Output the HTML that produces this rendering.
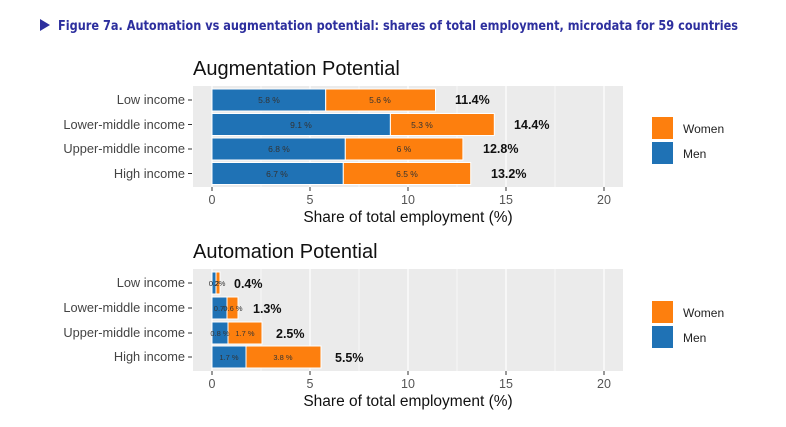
<!DOCTYPE html><html><head><meta charset="utf-8"><style>body{margin:0;background:#fff}svg{display:block}</style></head><body>
<svg width="786" height="427" xmlns="http://www.w3.org/2000/svg" font-family="Liberation Sans, sans-serif">
<polygon points="40,19 40,31 50,25" fill="#2d2f9e"/>
<text x="58" y="30" font-size="13.5" font-weight="bold" fill="#2d2f9e" font-family="DejaVu Sans Condensed, DejaVu Sans, sans-serif" textLength="680" lengthAdjust="spacingAndGlyphs">Figure 7a. Automation vs augmentation potential: shares of total employment, microdata for 59 countries</text>
<!-- TOP -->
<text x="193" y="75" font-size="20" fill="#111">Augmentation Potential</text>
<rect x="193" y="86" width="430" height="101" fill="#ebebeb"/>
<g stroke="#fff" stroke-width="1.2"><line x1="212" y1="86" x2="212" y2="187"/><line x1="310" y1="86" x2="310" y2="187"/><line x1="408" y1="86" x2="408" y2="187"/><line x1="506" y1="86" x2="506" y2="187"/><line x1="604" y1="86" x2="604" y2="187"/></g>
<g stroke="#fff" stroke-width="0.6"><line x1="261" y1="86" x2="261" y2="187"/><line x1="359" y1="86" x2="359" y2="187"/><line x1="457" y1="86" x2="457" y2="187"/><line x1="555" y1="86" x2="555" y2="187"/></g>
<g stroke="#fff" stroke-width="1">
<rect x="212" y="89" width="113.7" height="22" fill="#1f72b5"/><rect x="325.7" y="89" width="109.8" height="22" fill="#fd7f0e"/>
<rect x="212" y="113.5" width="178.4" height="22" fill="#1f72b5"/><rect x="390.4" y="113.5" width="103.9" height="22" fill="#fd7f0e"/>
<rect x="212" y="138" width="133.3" height="22" fill="#1f72b5"/><rect x="345.3" y="138" width="117.6" height="22" fill="#fd7f0e"/>
<rect x="212" y="162.5" width="131.3" height="22" fill="#1f72b5"/><rect x="343.3" y="162.5" width="127.4" height="22" fill="#fd7f0e"/>
</g>
<g font-size="8.5" fill="#333" text-anchor="middle">
<text x="269" y="103">5.8 %</text><text x="380" y="103">5.6 %</text>
<text x="301" y="128">9.1 %</text><text x="422" y="128">5.3 %</text>
<text x="279" y="152">6.8 %</text><text x="404" y="152">6 %</text>
<text x="277" y="177">6.7 %</text><text x="407" y="177">6.5 %</text>
</g>
<g font-size="12.5" font-weight="bold" fill="#111">
<text x="455" y="104">11.4%</text><text x="514" y="129">14.4%</text><text x="483" y="153">12.8%</text><text x="491" y="178">13.2%</text>
</g>
<g font-size="12.8" fill="#444" text-anchor="end">
<text x="185" y="104">Low income</text><text x="185" y="129">Lower-middle income</text><text x="185" y="153">Upper-middle income</text><text x="185" y="178">High income</text>
</g>
<g stroke="#333"><line x1="188" y1="100" x2="192" y2="100"/><line x1="188" y1="124.5" x2="192" y2="124.5"/><line x1="188" y1="149" x2="192" y2="149"/><line x1="188" y1="173.5" x2="192" y2="173.5"/>
<line x1="212" y1="187" x2="212" y2="191"/><line x1="310" y1="187" x2="310" y2="191"/><line x1="408" y1="187" x2="408" y2="191"/><line x1="506" y1="187" x2="506" y2="191"/><line x1="604" y1="187" x2="604" y2="191"/></g>
<g font-size="12.5" fill="#555" text-anchor="middle"><text x="212" y="204">0</text><text x="310" y="204">5</text><text x="408" y="204">10</text><text x="506" y="204">15</text><text x="604" y="204">20</text></g>
<text x="408" y="222" font-size="15.5" fill="#111" text-anchor="middle">Share of total employment (%)</text>
<rect x="652" y="117" width="21" height="22" fill="#fd7f0e"/><rect x="652" y="142" width="21" height="22" fill="#1f72b5"/>
<text x="683" y="133" font-size="12" fill="#222">Women</text><text x="683" y="158" font-size="12" fill="#222">Men</text>
<!-- BOTTOM -->
<text x="193" y="258" font-size="20" fill="#111">Automation Potential</text>
<rect x="193" y="269" width="430" height="102" fill="#ebebeb"/>
<g stroke="#fff" stroke-width="1.2"><line x1="212" y1="269" x2="212" y2="371"/><line x1="310" y1="269" x2="310" y2="371"/><line x1="408" y1="269" x2="408" y2="371"/><line x1="506" y1="269" x2="506" y2="371"/><line x1="604" y1="269" x2="604" y2="371"/></g>
<g stroke="#fff" stroke-width="0.6"><line x1="261" y1="269" x2="261" y2="371"/><line x1="359" y1="269" x2="359" y2="371"/><line x1="457" y1="269" x2="457" y2="371"/><line x1="555" y1="269" x2="555" y2="371"/></g>
<g stroke="#fff" stroke-width="1">
<rect x="212" y="272" width="4" height="22" fill="#1f72b5"/><rect x="216" y="272" width="4" height="22" fill="#fd7f0e"/>
<rect x="212" y="297" width="15" height="22" fill="#1f72b5"/><rect x="227" y="297" width="11" height="22" fill="#fd7f0e"/>
<rect x="212" y="322" width="16" height="22" fill="#1f72b5"/><rect x="228" y="322" width="34" height="22" fill="#fd7f0e"/>
<rect x="212" y="346" width="34" height="22" fill="#1f72b5"/><rect x="246" y="346" width="75" height="22" fill="#fd7f0e"/>
</g>
<g font-size="7.5" fill="#333" text-anchor="middle">
<text x="214" y="286">0.2</text><text x="220" y="286">2%</text>
<text x="219" y="311">0.7</text><text x="233" y="311">0.6 %</text>
<text x="220" y="336">0.8 %</text><text x="245" y="336">1.7 %</text>
<text x="229" y="360">1.7 %</text><text x="283" y="360">3.8 %</text>
</g>
<g font-size="12.5" font-weight="bold" fill="#111">
<text x="234" y="288">0.4%</text><text x="253" y="313">1.3%</text><text x="276" y="338">2.5%</text><text x="335" y="362">5.5%</text>
</g>
<g font-size="12.8" fill="#444" text-anchor="end">
<text x="185" y="287">Low income</text><text x="185" y="312">Lower-middle income</text><text x="185" y="337">Upper-middle income</text><text x="185" y="361">High income</text>
</g>
<g stroke="#333"><line x1="188" y1="283" x2="192" y2="283"/><line x1="188" y1="308" x2="192" y2="308"/><line x1="188" y1="333" x2="192" y2="333"/><line x1="188" y1="357" x2="192" y2="357"/>
<line x1="212" y1="371" x2="212" y2="375"/><line x1="310" y1="371" x2="310" y2="375"/><line x1="408" y1="371" x2="408" y2="375"/><line x1="506" y1="371" x2="506" y2="375"/><line x1="604" y1="371" x2="604" y2="375"/></g>
<g font-size="12.5" fill="#555" text-anchor="middle"><text x="212" y="388">0</text><text x="310" y="388">5</text><text x="408" y="388">10</text><text x="506" y="388">15</text><text x="604" y="388">20</text></g>
<text x="408" y="406" font-size="15.5" fill="#111" text-anchor="middle">Share of total employment (%)</text>
<rect x="652" y="301" width="21" height="22" fill="#fd7f0e"/><rect x="652" y="326" width="21" height="22" fill="#1f72b5"/>
<text x="683" y="317" font-size="12" fill="#222">Women</text><text x="683" y="342" font-size="12" fill="#222">Men</text>
</svg></body></html>
